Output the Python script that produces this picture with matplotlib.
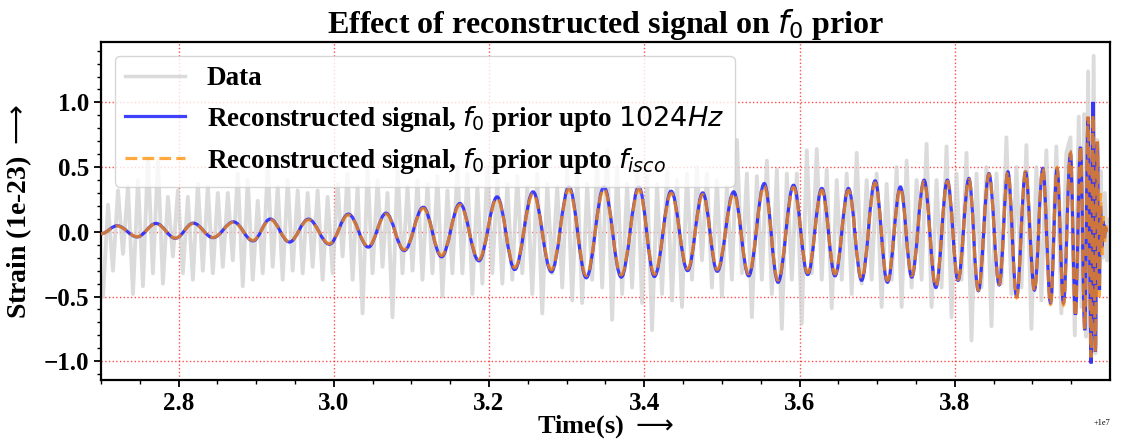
import numpy as np
import matplotlib
matplotlib.use("Agg")
import matplotlib.pyplot as plt
from matplotlib.path import Path
from matplotlib.patches import PathPatch
from matplotlib.lines import Line2D
from matplotlib.ticker import MultipleLocator

plt.rcParams['font.family'] = ['Liberation Serif', 'DejaVu Serif']
plt.rcParams['mathtext.fontset'] = 'dejavusans'

T_OFFSET = 1e7

# gray detector data: alternating low / high excursions, one pair per bin
gray_t0 = 2.7026   # time of first sample
gray_dt = 0.006431  # spacing between samples
gray_lo = [
    -0.50, -0.30, -0.17, -0.48, -0.42, -0.32, -0.40, -0.19, -0.32, -0.37,
    -0.30, -0.32, -0.27, -0.22, -0.42, -0.37, -0.32, -0.27, -0.37, -0.30,
    -0.32, -0.27, -0.37, -0.32, -0.19, -0.37, -0.63, -0.32, -0.27, -0.66,
    -0.32, -0.30, -0.37, -0.32, -0.50, -0.32, -0.32, -0.48, -0.40, -0.32,
    -0.40, -0.37, -0.32, -0.48, -0.63, -0.32, -0.43, -0.53, -0.55, -0.37,
    -0.43, -0.68, -0.48, -0.43, -0.55, -0.76, -0.48, -0.53, -0.58, -0.37,
    -0.22, -0.43, -0.50, -0.37, -0.32, -0.66, -0.37, -0.48, -0.75, -0.37,
    -0.71, -0.32, -0.37, -0.59, -0.37, -0.48, -0.40, -0.37, -0.58, -0.37,
    -0.58, -0.43, -0.37, -0.58, -0.43, -0.66, -0.37, -0.84, -0.43, -0.73,
    -0.40, -0.48, -0.43, -0.75, -0.53, -0.53, -0.63,
]
gray_hi = [
    0.21, 0.32, 0.35, 0.40, 0.57, 0.55, 0.27, 0.32, 0.27, 0.37,
    0.35, 0.30, 0.30, 0.45, 0.40, 0.24, 0.50, 0.35, 0.40, 0.32,
    0.30, 0.32, 0.27, 0.37, 0.45, 0.35, 0.48, 0.40, 0.30, 0.50,
    0.35, 0.40, 0.37, 0.43, 0.32, 0.50, 0.45, 0.35, 0.50, 0.40,
    0.37, 0.43, 0.35, 0.45, 0.37, 0.35, 0.50, 0.45, 0.37, 0.55,
    0.63, 0.50, 0.37, 0.50, 0.43, 0.37, 0.48, 0.40, 0.45, 0.50,
    0.45, 0.40, 0.35, 0.71, 0.45, 0.43, 0.55, 0.48, 0.45, 0.45,
    0.63, 0.64, 0.48, 0.40, 0.45, 0.61, 0.40, 0.45, 0.37, 0.50,
    0.55, 0.40, 0.68, 0.40, 0.66, 0.45, 0.61, 0.45, 0.50, 0.45,
    0.73, 0.50, 0.67, 0.50, 0.63, 0.66, 0.61,
]
# merger part of the data, sampled by hand
gray_tail_t = [3.9491, 3.9547, 3.9598, 3.9632, 3.9667, 3.9692, 3.9718, 3.9757,
               3.9790, 3.9812, 3.9838, 3.9868, 3.9881, 3.9907, 3.9933, 3.9963,
               3.9993, 4.0030]
gray_tail_y = [0.73, -0.80, 0.89, -0.58, 0.91, -0.81, 1.24, -1.00,
               1.36, -0.94, 0.71, -0.45, 0.47, -0.20, 0.30, -0.22,
               0.10, 0.00]

# extrema of the reconstructed waveform (blue, f0 prior up to 1024 Hz)
sig_t = [2.7000, 2.7208, 2.7466, 2.7710, 2.7958, 2.8190, 2.8443, 2.8708, 2.8958, 2.9180,
         2.9428, 2.9673, 2.9943, 3.0188, 3.0445, 3.0672, 3.0908, 3.1152, 3.1388, 3.1624,
         3.1868, 3.2104, 3.2331, 3.2567, 3.2803, 3.3030, 3.3253, 3.3480, 3.3703, 3.3930,
         3.4131, 3.4346, 3.4559, 3.4753, 3.4940, 3.5152, 3.5345, 3.5546, 3.5723, 3.5923,
         3.6106, 3.6288, 3.6458, 3.6631, 3.6800, 3.6974, 3.7133, 3.7300, 3.7446, 3.7605,
         3.7757, 3.7905, 3.8043, 3.8183, 3.8304, 3.8441, 3.8573, 3.8685, 3.8797, 3.8912,
         3.9027, 3.9135, 3.9234, 3.9319, 3.9401, 3.9491, 3.9555, 3.9620, 3.9675, 3.9718,
         3.9757, 3.9782, 3.9812, 3.9838, 3.9860, 3.9878, 3.9895, 3.9912, 3.9928, 3.9944,
         3.9960]
blue_y = [-0.015, 0.047, -0.039, 0.065, -0.050, 0.067, -0.045, 0.077, -0.070, 0.099,
          -0.079, 0.098, -0.096, 0.137, -0.118, 0.144, -0.145, 0.190, -0.193, 0.219,
          -0.224, 0.270, -0.291, 0.309, -0.309, 0.347, -0.355, 0.347, -0.350, 0.347,
          -0.345, 0.314, -0.300, 0.301, -0.305, 0.309, -0.340, 0.373, -0.390, 0.360,
          -0.330, 0.335, -0.340, 0.335, -0.375, 0.394, -0.390, 0.347, -0.350, 0.399,
          -0.430, 0.399, -0.375, 0.412, -0.455, 0.450, -0.410, 0.463, -0.500, 0.463,
          -0.450, 0.489, -0.550, 0.489, -0.550, 0.605, -0.640, 0.656, -0.760, 0.888,
          -1.017, 1.004, -0.927, 0.695, -0.450, 0.200, -0.120, 0.080, -0.050, 0.030,
          0.000]
# orange, f0 prior up to f_isco
orange_y = [-0.015, 0.045, -0.037, 0.062, -0.048, 0.064, -0.043, 0.074, -0.066, 0.094,
            -0.075, 0.093, -0.091, 0.130, -0.112, 0.137, -0.138, 0.181, -0.183, 0.208,
            -0.212, 0.258, -0.276, 0.294, -0.293, 0.330, -0.338, 0.330, -0.333, 0.330,
            -0.328, 0.298, -0.285, 0.287, -0.290, 0.294, -0.323, 0.355, -0.372, 0.343,
            -0.315, 0.320, -0.325, 0.320, -0.360, 0.378, -0.375, 0.335, -0.338, 0.388,
            -0.420, 0.390, -0.368, 0.405, -0.450, 0.445, -0.405, 0.460, -0.510, 0.465,
            -0.455, 0.490, -0.560, 0.495, -0.565, 0.610, -0.650, 0.660, -0.750, 0.890,
            -0.970, 0.900, -0.930, 0.700, -0.500, 0.300, -0.180, 0.120, -0.080, 0.050,
            0.000]


def smooth_path(t, y, k=0.3634):
    # cubic Bezier segments with flat tangents at each extremum
    verts = [(t[0], y[0])]
    codes = [Path.MOVETO]
    for i in range(len(t) - 1):
        d = t[i + 1] - t[i]
        verts += [(t[i] + k * d, y[i]), (t[i + 1] - k * d, y[i + 1]), (t[i + 1], y[i + 1])]
        codes += [Path.CURVE4] * 3
    return Path(verts, codes)


gray_y = np.ravel(np.column_stack([gray_lo, gray_hi]))
gray_t = gray_t0 + gray_dt * np.arange(len(gray_y))
gray_t = np.concatenate([gray_t, gray_tail_t]) + T_OFFSET
gray_y = np.concatenate([gray_y, gray_tail_y])
sig_x = np.array(sig_t) + T_OFFSET

fig = plt.figure(figsize=(11.31, 4.41), dpi=100)
ax = fig.add_axes([0.0893, 0.1383, 0.8921, 0.7665])

ax.plot(gray_t, gray_y, color='lightgray', lw=2.8, alpha=0.8, zorder=2)
ax.add_patch(PathPatch(smooth_path(sig_x, blue_y), fill=False, edgecolor='blue',
                       alpha=0.75, lw=2.3, zorder=3))
ax.add_patch(PathPatch(smooth_path(sig_x, orange_y), fill=False, edgecolor='darkorange',
                       alpha=0.75, lw=2.3, linestyle='--', zorder=4))

ax.set_xlim(2.7 + T_OFFSET, 4.0 + T_OFFSET)
ax.set_ylim(-1.145, 1.467)
ax.xaxis.set_major_locator(MultipleLocator(0.2))
ax.xaxis.set_minor_locator(MultipleLocator(0.05))
ax.yaxis.set_major_locator(MultipleLocator(0.5))
ax.yaxis.set_minor_locator(MultipleLocator(0.1))
ax.ticklabel_format(axis='x', useOffset=T_OFFSET)
ax.xaxis.get_offset_text().set_fontsize(6)

ax.tick_params(which='major', labelsize=18, length=5, width=1.3)
ax.tick_params(which='minor', length=3, width=1.0)
plt.setp(ax.get_xticklabels() + ax.get_yticklabels(), fontweight='bold')
for s in ax.spines.values():
    s.set_linewidth(1.6)
ax.grid(True, which='major', color='red', linestyle=':', lw=1, alpha=0.7)

ax.set_title(r'Effect of reconstructed signal on $f_0$ prior', fontsize=23, fontweight='bold')
ax.set_xlabel(r'Time(s) $\longrightarrow$', fontsize=19, fontweight='bold', labelpad=-1)
ax.set_ylabel(r'Strain (1e-23) $\longrightarrow$', fontsize=20, fontweight='bold', labelpad=7)

handles = [
    Line2D([], [], color='lightgray', lw=2.5, alpha=0.8),
    Line2D([], [], color='blue', lw=2.3, alpha=0.75),
    Line2D([], [], color='darkorange', lw=2.3, alpha=0.75, linestyle='--'),
]
labels = ['Data',
          r'Reconstructed signal, $f_0$ prior upto $1024Hz$',
          r'Reconstructed signal, $f_0$ prior upto $f_{isco}$']
ax.legend(handles, labels, loc='upper left', handlelength=2.2, labelspacing=0.45,
          prop={'size': 19.5, 'weight': 'bold'})

fig.savefig('out.png', dpi=100)
